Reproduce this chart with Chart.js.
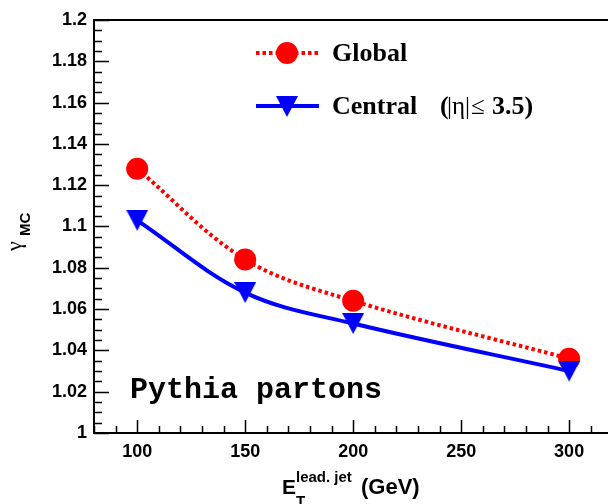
<!DOCTYPE html>
<html>
<head>
<meta charset="utf-8">
<script src="https://cdn.jsdelivr.net/npm/chart.js@4/dist/chart.umd.min.js"></script>
<style>
  html, body { margin: 0; padding: 0; background: #fff; overflow: hidden; }
  canvas { display: block; }
</style>
</head>
<body>
<canvas id="gammaChart" width="608" height="504"></canvas>
<script>
// Valores
const energies = [100, 150, 200, 300];
const globalGamma = [1.128, 1.084, 1.064, 1.036];
const centralGamma = [1.103, 1.068, 1.053, 1.030];
const xTickValues = [100, 150, 200, 250, 300];
const yTickStep = 0.02;

const RED = '#ff0000';
const BLUE = '#0000ff';

// Triângulo invertido (marcador 23 do ROOT), centrado na caixa
function makeTriangle(color, w, h) {
    const c = document.createElement('canvas');
    c.width = w;
    c.height = h;
    const g = c.getContext('2d');
    g.fillStyle = color;
    g.beginPath();
    g.moveTo(0, 0);
    g.lineTo(w, 0);
    g.lineTo(w / 2, h);
    g.closePath();
    g.fill();
    return c;
}
const triangle = makeTriangle(BLUE, 22, 21);

// Ticks para dentro, moldura e textos
const decorPlugin = {
    id: 'decor',
    beforeDatasetsDraw(chart) {
        const { ctx, chartArea: a, scales: { x, y } } = chart;
        ctx.save();
        ctx.strokeStyle = '#000';
        ctx.lineWidth = 1.5;
        ctx.beginPath();
        for (let i = 0; i <= 40; i++) {
            const py = Math.round(y.getPixelForValue(1 + i * 0.005)) + 0.5;
            const len = i % 4 === 0 ? 15 : 8;
            ctx.moveTo(a.left, py);
            ctx.lineTo(a.left + len, py);
        }
        for (let v = 80; v <= x.max; v += 10) {
            const px = Math.round(x.getPixelForValue(v)) + 0.5;
            const len = v % 50 === 0 ? 13 : 7;
            ctx.moveTo(px, a.bottom);
            ctx.lineTo(px, a.bottom - len);
        }
        ctx.stroke();
        // linha de cima
        ctx.lineWidth = 2;
        ctx.beginPath();
        ctx.moveTo(a.left, a.top);
        ctx.lineTo(a.right, a.top);
        ctx.stroke();
        ctx.restore();
    },
    afterDraw(chart) {
        const { ctx } = chart;
        ctx.save();
        ctx.fillStyle = '#000';
        ctx.textBaseline = 'alphabetic';

        // Legenda
        ctx.lineWidth = 4;
        ctx.strokeStyle = RED;
        ctx.setLineDash([3.5, 3]);
        ctx.beginPath();
        ctx.moveTo(256, 53);
        ctx.lineTo(319, 53);
        ctx.stroke();
        ctx.setLineDash([]);
        ctx.fillStyle = RED;
        ctx.beginPath();
        ctx.arc(287, 53, 11, 0, Math.PI * 2);
        ctx.fill();

        ctx.strokeStyle = BLUE;
        ctx.beginPath();
        ctx.moveTo(256, 106);
        ctx.lineTo(319, 106);
        ctx.stroke();
        ctx.drawImage(triangle, 287 - 11, 96);

        ctx.fillStyle = '#000';
        ctx.font = 'bold 26px "Liberation Serif"';
        ctx.fillText('Global', 332, 61);
        ctx.fillText('Central', 332, 114);
        ctx.fillText('(', 440, 114);
        ctx.font = '25px "Liberation Serif"';
        ctx.fillText('|η|', 447, 114);
        ctx.fillText('≤', 471, 114);
        ctx.font = 'bold 26px "Liberation Serif"';
        ctx.fillText('3.5)', 492, 114);

        // Texto do gerador
        ctx.font = 'bold 30px "Liberation Mono"';
        ctx.fillText('Pythia partons', 130, 398);

        // Título do eixo X
        ctx.font = 'bold 21px "Liberation Sans"';
        ctx.fillText('E', 282, 494);
        ctx.font = 'bold 15px "Liberation Sans"';
        ctx.fillText('lead. jet', 296, 482);
        ctx.fillText('T', 296, 506);
        ctx.font = 'bold 22px "Liberation Sans"';
        ctx.fillText('(GeV)', 361, 494);

        // Título do eixo Y
        ctx.save();
        ctx.translate(21, 251);
        ctx.rotate(-Math.PI / 2);
        ctx.font = '22px "Liberation Serif"';
        ctx.fillText('γ', 0, 0);
        ctx.font = 'bold 15px "Liberation Sans"';
        ctx.fillText('MC', 15, 9);
        ctx.restore();

        ctx.restore();
    }
};

const toPoints = (xs, ys) => xs.map((v, i) => ({ x: v, y: ys[i] }));
const tickFont = { family: 'Liberation Sans', weight: 'bold', size: 18 };

new Chart(document.getElementById('gammaChart'), {
    type: 'line',
    data: {
        datasets: [
            {
                label: 'Global',
                data: toPoints(energies, globalGamma),
                borderColor: RED,
                backgroundColor: RED,
                borderWidth: 4,
                borderDash: [3.5, 3],
                tension: 0.35,
                pointStyle: 'circle',
                pointRadius: 11,
                pointBorderWidth: 0,
                order: 2
            },
            {
                label: 'Central',
                data: toPoints(energies, centralGamma),
                borderColor: BLUE,
                backgroundColor: BLUE,
                borderWidth: 4,
                tension: 0.35,
                pointStyle: triangle,
                pointRadius: 11,
                order: 1
            }
        ]
    },
    options: {
        responsive: false,
        animation: false,
        devicePixelRatio: 1,
        layout: { autoPadding: false, padding: { top: 20, left: 0, right: 0, bottom: 0 } },
        plugins: {
            legend: { display: false },
            tooltip: { enabled: false }
        },
        scales: {
            x: {
                type: 'linear',
                min: 80,
                max: 318,
                grid: { display: false, drawTicks: false },
                border: { display: true, color: '#000', width: 2 },
                ticks: { padding: 8, color: '#000', font: tickFont, maxRotation: 0, autoSkip: false },
                afterBuildTicks: s => { s.ticks = xTickValues.map(v => ({ value: v })); },
                afterFit: s => { s.height = 71; s.paddingLeft = 0; s.paddingRight = 0; }
            },
            y: {
                min: 1,
                max: 1.2,
                grid: { display: false, drawTicks: false },
                border: { display: true, color: '#000', width: 2 },
                ticks: {
                    stepSize: yTickStep, padding: 7, color: '#000', font: tickFont,
                    callback: v => String(Number(v.toFixed(3)))
                },
                afterFit: s => { s.width = 94; s.paddingTop = 0; s.paddingBottom = 0; }
            }
        }
    },
    plugins: [decorPlugin]
});
</script>
</body>
</html>
